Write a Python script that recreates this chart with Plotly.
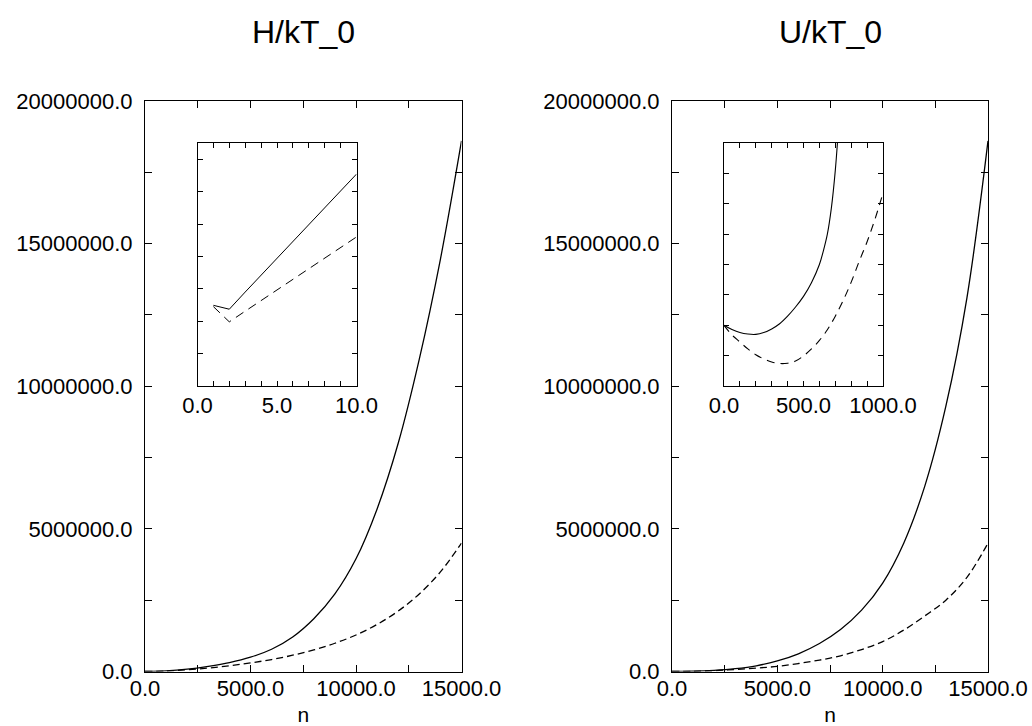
import plotly.graph_objects as go

# ---------------- data ----------------
# main panels: n vs value
n_main = [0, 1000, 2000, 3000, 4000, 5000, 6000, 7000, 8000, 9000,
          10000, 11000, 12000, 13000, 14000, 15000]
H_solid = [0, 0.02e6, 0.08e6, 0.18e6, 0.31e6, 0.5e6, 0.78e6, 1.21e6, 1.85e6, 2.72e6,
           3.95e6, 5.7e6, 8.0e6, 10.95e6, 14.45e6, 18.6e6]
H_dashed = [0, 0.015e6, 0.06e6, 0.12e6, 0.2e6, 0.3e6, 0.42e6, 0.57e6, 0.756e6, 0.99e6,
            1.28e6, 1.65e6, 2.12e6, 2.72e6, 3.49e6, 4.5e6]
U_solid = [0, 0.008e6, 0.04e6, 0.1e6, 0.2e6, 0.37e6, 0.62e6, 0.98e6, 1.47e6, 2.15e6,
           3.1e6, 4.5e6, 6.5e6, 9.3e6, 13.1e6, 18.6e6]
U_dashed = [0, 0.006e6, 0.03e6, 0.07e6, 0.12e6, 0.18e6, 0.28e6, 0.40e6, 0.55e6, 0.77e6,
            1.05e6, 1.45e6, 1.95e6, 2.5e6, 3.3e6, 4.5e6]

# left inset (small n)
n_in_H = [1, 2, 3, 4, 5, 6, 7, 8, 9, 10]
H_in_solid = [2.49, 2.37, 2.9, 3.42, 3.94, 4.46, 4.98, 5.5, 6.02, 6.54]
H_in_dashed = [2.45, 1.98, 2.31, 2.64, 2.96, 3.29, 3.62, 3.95, 4.27, 4.6]

# right inset (n up to 1000)
n_in_U_solid = [0, 50, 100, 150, 200, 250, 300, 350, 400, 450, 500, 550,
                600, 625, 650, 675, 700, 720]
U_in_solid = [2.0, 1.86, 1.76, 1.71, 1.70, 1.76, 1.88, 2.05, 2.3, 2.6, 2.95, 3.4,
              4.0, 4.45, 5.0, 5.85, 7.1, 8.5]
n_in_U_dashed = [0, 50, 100, 150, 200, 250, 300, 350, 400, 450, 500, 550, 600,
                 650, 700, 750, 800, 850, 900, 950, 1000]
U_in_dashed = [2.0, 1.68, 1.45, 1.22, 1.03, 0.89, 0.79, 0.74, 0.75, 0.82, 0.99, 1.22,
               1.5, 1.85, 2.3, 2.82, 3.42, 4.1, 4.75, 5.5, 6.35]

titles = ["H/kT_0", "U/kT_0"]
xlabel = "n"

# ---------------- figure ----------------
W, Hh = 1032, 726
FONT = "Liberation Sans, Arial, Helvetica, sans-serif"

fig = go.Figure()

def add(x, y, xa, ya, dash, width, smooth=True):
    line = dict(color="black", width=width, dash=dash)
    if smooth:
        line.update(shape="spline", smoothing=1.0)
    fig.add_trace(go.Scatter(x=x, y=y, mode="lines", xaxis=xa, yaxis=ya, line=line,
                             showlegend=False, hoverinfo="skip"))

add(n_main, H_solid, "x", "y", "solid", 1.3)
add(n_main, H_dashed, "x", "y", "7px,4px", 1.3)
add(n_main, U_solid, "x2", "y2", "solid", 1.3)
add(n_main, U_dashed, "x2", "y2", "7px,4px", 1.3)
add(n_in_H, H_in_solid, "x3", "y3", "solid", 1.0, smooth=False)
add(n_in_H, H_in_dashed, "x3", "y3", "9px,6px", 1.0, smooth=False)
add(n_in_U_solid, U_in_solid, "x4", "y4", "solid", 1.1)
add(n_in_U_dashed, U_in_dashed, "x4", "y4", "8px,6px", 1.1)

def px_x(a, b):
    return [a / W, b / W]

def px_y(top, bottom):
    return [1 - bottom / Hh, 1 - top / Hh]

base = dict(showline=True, linecolor="black", linewidth=1, mirror="ticks",
            showgrid=False, zeroline=False, ticks="inside", tickcolor="black",
            tickwidth=1, automargin=False,
            tickfont=dict(family=FONT, size=22, color="black"))

def minor(d, ln):
    return dict(ticks="inside", dtick=d, ticklen=ln, tickcolor="black", tickwidth=1, showgrid=False)

main_x = dict(base, range=[0, 15000], tick0=0, dtick=5000, tickformat=".1f", ticklen=7,
              minor=minor(2500, 7), ticklabelstandoff=-3,
              title=dict(text=xlabel, font=dict(family=FONT, size=21, color="black"), standoff=20))
main_y = dict(base, range=[0, 20e6], tick0=0, dtick=5e6, tickformat=".1f", ticklen=7,
              minor=minor(2.5e6, 7), ticklabelstandoff=7)

fig.update_layout(
    template="none",
    width=W, height=Hh, margin=dict(l=0, r=0, t=0, b=0, pad=0), autosize=False,
    paper_bgcolor="white", plot_bgcolor="white",
    font=dict(family=FONT, color="black"),
    xaxis=dict(main_x, domain=px_x(145, 461.5), anchor="y"),
    yaxis=dict(main_y, domain=px_y(101, 671.5), anchor="x"),
    xaxis2=dict(main_x, domain=px_x(672, 988), anchor="y2"),
    yaxis2=dict(main_y, domain=px_y(101, 671.5), anchor="x2"),
    xaxis3=dict(base, range=[0, 10], tick0=0, dtick=5, tickformat=".1f", ticklen=5,
                minor=minor(1, 5), ticklabelstandoff=0,
                domain=px_x(197.5, 356.5), anchor="y3"),
    yaxis3=dict(base, range=[0, 7.5], tick0=0, dtick=1, ticklen=5, showticklabels=False,
                domain=px_y(143, 386), anchor="x3"),
    xaxis4=dict(base, range=[0, 1000], tick0=0, dtick=500, tickformat=".1f", ticklen=5,
                minor=minor(100, 5), ticklabelstandoff=0,
                domain=px_x(724, 883), anchor="y4"),
    yaxis4=dict(base, range=[0, 8], tick0=0, dtick=1, ticklen=5, showticklabels=False,
                domain=px_y(143, 386), anchor="x4"),
)

for t, cx in zip(titles, [303, 830]):
    fig.add_annotation(text=t, x=cx / W, y=1 - 32 / Hh, xref="paper", yref="paper",
                       showarrow=False, xanchor="center", yanchor="middle",
                       font=dict(family=FONT, size=32, color="black"))

fig.write_html("out.html")
